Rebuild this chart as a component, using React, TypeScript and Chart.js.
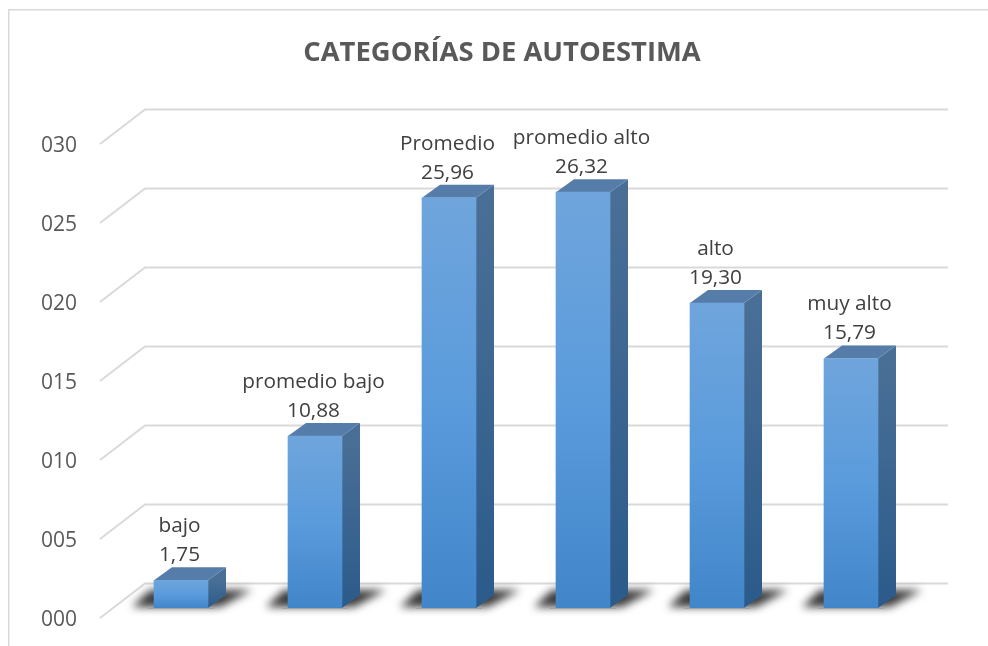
import React, { useEffect, useRef } from "react";
import { Chart, registerables } from "chart.js";

Chart.register(...registerables);

const categories = ["bajo", "promedio bajo", "Promedio", "promedio alto", "alto", "muy alto"];
const values = [1.75, 10.88, 25.96, 26.32, 19.3, 15.79];
const chartTitle = "CATEGORÍAS DE AUTOESTIMA";

const FONT = '"Open Sans", sans-serif';
const DX = 18;
const DY = 13;
const WALL_DX = 45;
const WALL_BACK = 24.5;
const WALL_FRONT = 10;

const decor = {
  id: "decor",
  beforeDraw(chart: any) {
    const { ctx, width, height } = chart;
    ctx.save();
    ctx.strokeStyle = "#d9d9d9";
    ctx.lineWidth = 1.5;
    ctx.beginPath();
    ctx.moveTo(8.75, height);
    ctx.lineTo(8.75, 9.75);
    ctx.lineTo(width, 9.75);
    ctx.stroke();
    ctx.restore();
  },
  beforeDatasetsDraw(chart: any) {
    const { ctx, chartArea } = chart;
    const yScale = chart.scales.y;
    ctx.save();
    ctx.strokeStyle = "#d9d9d9";
    ctx.lineWidth = 2;
    ctx.lineJoin = "miter";
    yScale.ticks.forEach((t: any) => {
      const py = yScale.getPixelForValue(t.value);
      const x0 = chartArea.left - 14;
      ctx.beginPath();
      ctx.moveTo(x0, py + WALL_FRONT);
      ctx.lineTo(x0 + WALL_DX, py - WALL_BACK);
      ctx.lineTo(chartArea.right + 30, py - WALL_BACK);
      ctx.stroke();
    });
    ctx.restore();

    const meta = chart.getDatasetMeta(0);
    meta.data.forEach((bar: any) => {
      const L = bar.x - bar.width / 2;
      const R = bar.x + bar.width / 2;
      const B = bar.base;
      const T = bar.y;
      // ground shadow
      ctx.save();
      ctx.filter = "blur(4px)";
      ctx.fillStyle = "rgba(0,0,0,0.78)";
      ctx.beginPath();
      ctx.moveTo(L - 22, B - 1);
      ctx.lineTo(L - 4, B - 18);
      ctx.lineTo(R + 44, B - 18);
      ctx.lineTo(R + 12, B - 1);
      ctx.closePath();
      ctx.fill();
      ctx.restore();
      // thin base line under the bar
      ctx.fillStyle = "rgba(150,150,150,0.6)";
      ctx.fillRect(L - 6, B, R - L + 12, 1);
      // right side
      const g = ctx.createLinearGradient(0, T, 0, B);
      g.addColorStop(0, "#4a6f96");
      g.addColorStop(1, "#2b5b8b");
      ctx.fillStyle = g;
      ctx.beginPath();
      ctx.moveTo(R, T);
      ctx.lineTo(R + DX, T - DY);
      ctx.lineTo(R + DX, B - DY);
      ctx.lineTo(R, B);
      ctx.closePath();
      ctx.fill();
      // top
      ctx.fillStyle = "#567da9";
      ctx.beginPath();
      ctx.moveTo(L, T);
      ctx.lineTo(L + DX, T - DY);
      ctx.lineTo(R + DX, T - DY);
      ctx.lineTo(R, T);
      ctx.closePath();
      ctx.fill();
    });
  },
  afterDatasetsDraw(chart: any) {
    const { ctx } = chart;
    const meta = chart.getDatasetMeta(0);
    ctx.save();
    ctx.font = `20.8px ${FONT}`;
    ctx.fillStyle = "#404040";
    ctx.textAlign = "center";
    ctx.textBaseline = "middle";
    meta.data.forEach((bar: any, i: number) => {
      const x = bar.x - 1.5;
      ctx.fillText(categories[i], x, bar.y - 54);
      ctx.fillText(values[i].toFixed(2).replace(".", ","), x, bar.y - 25);
    });
    ctx.restore();
  },
};

export default function App() {
  const ref = useRef<HTMLCanvasElement | null>(null);
  useEffect(() => {
    const chart = new Chart(ref.current as HTMLCanvasElement, {
      type: "bar",
      data: {
        labels: categories,
        datasets: [
          {
            data: values,
            barThickness: 54,
            backgroundColor: (c: any) => {
              const s = c.chart.scales.y;
              if (!s || typeof c.raw !== "number") return "#5b9bd5";
              const y0 = s.getPixelForValue(c.raw);
              const y1 = s.getPixelForValue(0);
              if (!Number.isFinite(y0) || !Number.isFinite(y1)) return "#5b9bd5";
              const g = c.chart.ctx.createLinearGradient(0, y0, 0, y1);
              g.addColorStop(0, "#6fa5dc");
              g.addColorStop(0.5, "#5a9bdc");
              g.addColorStop(1, "#4186c9");
              return g;
            },
          },
        ],
      },
      options: {
        animation: false,
        responsive: false,
        layout: { padding: { left: 86, right: 70, top: 0, bottom: 38 } },
        plugins: {
          legend: { display: false },
          tooltip: { enabled: false },
          title: {
            display: true,
            text: chartTitle,
            color: "#595959",
            font: { family: FONT, size: 27.4, weight: "bold", lineHeight: 1.2 },
            padding: { top: 36.5, bottom: 64.6 },
          },
        },
        scales: {
          x: {
            afterFit: (s: any) => {
              s.height = 0;
            },
            grid: { display: false },
            border: { display: false },
            ticks: { display: false },
          },
          y: {
            min: 0,
            max: 30,
            afterFit: (s: any) => {
              s.width = 28;
            },
            grid: { display: false, drawTicks: false },
            border: { display: false },
            ticks: {
              stepSize: 5,
              mirror: true,
              padding: -73,
              labelOffset: 12.5,
              color: "#595959",
              font: { family: FONT, size: 21 },
              callback: (v: any) => String(v).padStart(3, "0"),
            },
          },
        },
      },
      plugins: [decor],
    } as any);
    return () => chart.destroy();
  }, []);
  return (
    <div style={{ position: "fixed", left: 0, top: 0, width: 988, height: 646 }}>
      <canvas ref={ref} width={988} height={646} style={{ display: "block" }} />
    </div>
  );
}
